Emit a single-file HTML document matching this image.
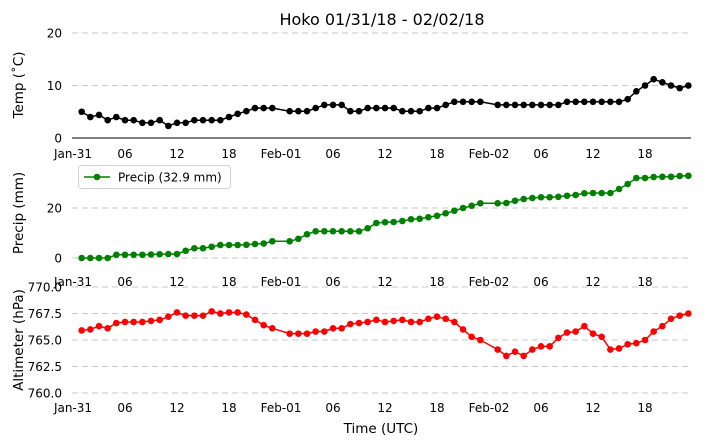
<!DOCTYPE html>
<html><head><meta charset="utf-8"><style>
body{margin:0;background:#fff;}
svg{display:block;font-family:"DejaVu Sans","Liberation Sans",sans-serif;}
</style></head><body>
<svg id="c" width="704" height="445" xmlns="http://www.w3.org/2000/svg"></svg>
<script>
const tempValues=[5.0,4.0,4.4,3.4,4.0,3.4,3.4,2.9,2.9,3.4,2.3,2.9,2.9,3.4,3.4,3.4,3.4,4.0,4.6,5.1,5.7,5.7,5.7,
5.1,5.1,5.1,5.7,6.3,6.3,6.3,5.1,5.1,5.7,5.7,5.7,5.7,5.1,5.1,5.1,5.7,5.7,6.3,6.9,6.9,6.9,6.9,
6.3,6.3,6.3,6.3,6.3,6.3,6.3,6.3,6.9,6.9,6.9,6.9,6.9,6.9,6.9,7.4,8.9,10.0,11.2,10.6,10.0,9.5,10.0];
const precipValues=[0,0,0,0,1.3,1.3,1.3,1.3,1.4,1.5,1.6,1.6,2.9,3.9,3.9,4.5,5.2,5.2,5.2,5.3,5.6,5.8,6.7,
6.7,7.7,9.5,10.7,10.7,10.7,10.7,10.7,10.7,11.9,14.0,14.3,14.4,14.8,15.5,15.7,16.3,16.9,17.9,18.9,20.0,20.9,21.9,
21.9,22.0,22.9,23.6,24.0,24.3,24.3,24.5,24.9,25.2,25.9,26.0,26.0,26.0,27.6,29.6,32.0,32.0,32.4,32.5,32.5,32.8,32.9];
const pressValues=[765.9,766.0,766.3,766.1,766.6,766.7,766.7,766.7,766.8,766.9,767.2,767.6,767.3,767.3,767.3,767.7,767.5,767.6,767.6,767.4,766.9,766.4,766.1,
765.6,765.6,765.6,765.8,765.8,766.1,766.1,766.5,766.6,766.7,766.9,766.7,766.8,766.9,766.7,766.7,767.0,767.2,767.0,766.7,766.0,765.3,765.0,
764.1,763.5,763.9,763.5,764.1,764.4,764.4,765.2,765.7,765.8,766.3,765.6,765.3,764.1,764.2,764.6,764.7,765.0,765.8,766.3,767.0,767.3,767.5];
const xTickHours=[0,6,12,18,24,30,36,42,48,54,60,66];
const xTickLabels=["Jan-31","06","12","18","Feb-01","06","12","18","Feb-02","06","12","18"];
const tempTicks=[0,10,20];
const precipTicks=[0,20];
const pressTicks=[760.0,762.5,765.0,767.5,770.0];

const NS="http://www.w3.org/2000/svg";
const svg=document.getElementById('c');
function el(t,a,p){const e=document.createElementNS(NS,t);for(const k in a)e.setAttribute(k,a[k]);(p||svg).appendChild(e);return e;}
const hours=[];for(let h=1;h<=71;h++){if(h!==24&&h!==48)hours.push(h);}
const X=h=>73+h*8.667;
const L=72,R=691;
function panel(name,vals,ticks,ymap,color,fmt,tickY,label,labelY){
  const g=el('g',{});
  
  
  ticks.forEach(t=>{const y=ymap(t);
    const gl=el('line',{x1:L,x2:R,y1:y,y2:y,stroke:'#c8c8c8','stroke-dasharray':'6,4','stroke-width':1},g);
    
    
    const tl=el('text',{x:62,y:y+4.5,'text-anchor':'end','font-size':12},g);tl.textContent=fmt(t);
    
    
  });
  xTickHours.forEach((h,i)=>{const t=el('text',{x:X(h),y:tickY,'text-anchor':'middle','font-size':12},g);t.textContent=xTickLabels[i];
    
    });
  let d='';
  hours.forEach((h,i)=>{d+=(i===0?'M':'L')+X(h).toFixed(1)+','+ymap(vals[i]).toFixed(1);});
  const ln=el('path',{d:d,fill:'none',stroke:color,'stroke-width':1.5},g);
  
  
  hours.forEach((h,i)=>{const c=el('circle',{cx:X(h),cy:ymap(vals[i]),r:3.3,fill:color},g);
    
    });
  const yl=el('text',{x:0,y:0,'text-anchor':'middle','font-size':13.5,transform:'translate(23,'+labelY+') rotate(-90)'},g);yl.textContent=label;
  
  
}
panel('temp',tempValues,tempTicks,v=>138-v*5.25,'#000',v=>v,158,'Temp (\u02DAC)',85);
const sp=el('line',{x1:L,x2:R,y1:138,y2:138,stroke:'#000','stroke-width':1});


panel('precip',precipValues,precipTicks,v=>258-v*2.5,'#008000',v=>v,286,'Precip (mm)',213);
panel('pressure',pressValues,pressTicks,v=>393-(v-760)*10.6,'#ff0000',v=>v.toFixed(1),412,'Altimeter (hPa)',340);
const title=el('text',{x:382,y:25,'text-anchor':'middle','font-size':16});title.textContent='Hoko 01/31/18 - 02/02/18';


const xt=el('text',{x:381,y:433,'text-anchor':'middle','font-size':13.5});xt.textContent='Time (UTC)';


const lg=el('g',{});


el('rect',{x:78.5,y:165.5,width:152,height:23,rx:3,fill:'#fff',stroke:'#d0d0d0'},lg);
el('line',{x1:84,x2:110,y1:177,y2:177,stroke:'#008000','stroke-width':1.5},lg);
el('circle',{cx:97,cy:177,r:3.3,fill:'#008000'},lg);
const lt=el('text',{x:118,y:181.5,'font-size':12},lg);lt.textContent='Precip (32.9 mm)';


</script>
</body></html>
